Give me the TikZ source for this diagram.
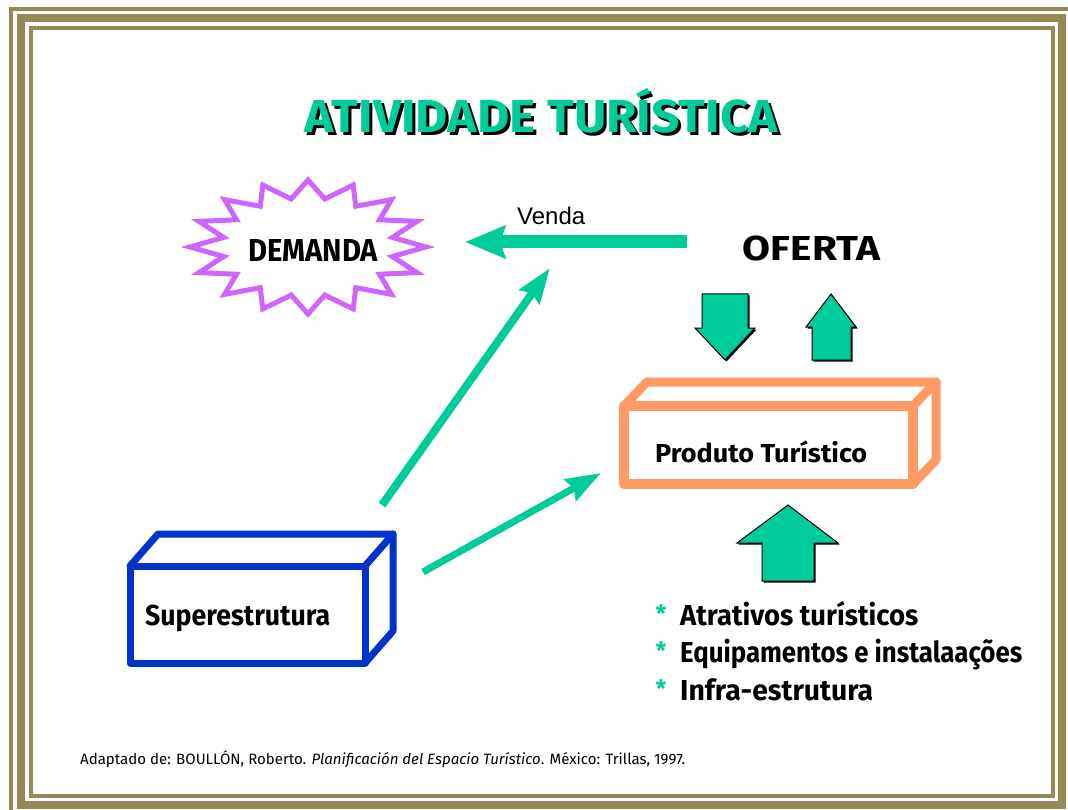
\documentclass[tikz,border=0pt]{standalone}
\usepackage{fontspec}
\setmainfont{Fira Sans}
\newfontfamily\arialfont{Liberation Sans}
\usepackage{graphicx}
\usetikzlibrary{arrows.meta}
\definecolor{tealc}{HTML}{00CC99}
\definecolor{purplec}{HTML}{CC66FF}
\definecolor{orangec}{HTML}{FF9966}
\definecolor{bluec}{HTML}{0033CC}
\definecolor{framec}{HTML}{958A55}
\newcommand{\fitw}[2]{\resizebox{#1}{!}{#2}}
\newcommand{\fitwh}[3]{\resizebox{#1}{#2}{\raisebox{0pt}[\fontcharht\font`H][0pt]{#3}}}
\tikzset{
  frameline/.style={draw=framec},
  conn/.style={draw=tealc, line width=8pt, -{Stealth[length=35pt,width=24pt,inset=4pt]}},
  vendaconn/.style={draw=tealc, line width=13pt, -{Stealth[length=40pt,width=32pt,inset=5pt]}},
  block/.style={fill=tealc, draw=black, line width=1pt, line join=miter},
  blockshadow/.style={fill=black},
  boxline/.style={line width=#1, line join=round, line cap=round},
  comic/.style={inner sep=0pt, font=\bfseries},
  starline/.style={draw=purplec, line width=5pt, line join=miter, miter limit=20},
  star/.style={comic, text=tealc, font=\bfseries\fontsize{24}{28}\selectfont}
}
\begin{document}
\begin{tikzpicture}[x=1pt,y=-1pt]
\useasboundingbox (0,0) rectangle (1068,810);
\fill[white] (0,0) rectangle (1068,810);
% frame
\draw[frameline, line width=4pt] (11,810) -- (11,9) -- (1068,9);
\draw[frameline, line width=8pt] (21,18) rectangle (1062,805);
\draw[frameline, line width=4pt] (31,28) rectangle (1053,795.5);

% title
\node[comic, anchor=base, text=black] (titleshadow) at (544.5,136) {\fitwh{473pt}{32pt}{ATIVIDADE TURÍSTICA}};
\node[comic, anchor=base, text=tealc] (title) at (541.5,133) {\fitwh{473pt}{32pt}{ATIVIDADE TURÍSTICA}};

% demanda starburst
\draw[starline] (426,247)
  \foreach \k in {1,...,16} {
    -- ({308+86*cos(\k*22.5-11.25)},{247-49*sin(\k*22.5-11.25)})
    -- ({308+118*cos(\k*22.5)},{247-67*sin(\k*22.5)})
  } -- cycle;
\node[comic, anchor=base] (demanda) at (313,262) {\fitwh{130pt}{22pt}{DEMANDA}};

% oferta
\node[comic, anchor=base] (oferta) at (811.5,261) {\fitwh{137pt}{24pt}{OFERTA}};

% venda arrow
\coordinate (vendastart) at (687,242);
\coordinate (vendaend) at (465,242);
\draw[vendaconn] (vendastart) -- (vendaend);
\node[anchor=base west, inner sep=0pt, font=\arialfont\fontsize{24}{28}\selectfont] (venda) at (517,225) {Venda};

% block arrows
\fill[blockshadow] ([shift={(1.5,1.5)}]702,294) -- ++(46,0) -- ++(0,34) -- ++(7,0) -- ++(-30,32) -- ++(-30,-32) -- ++(7,0) -- cycle;
\draw[block] (702,294) -- (748,294) -- (748,328) -- (755,328) -- (725,360) -- (695,328) -- (702,328) -- cycle;
\fill[blockshadow] ([shift={(1.5,1.5)}]831,294) -- ++(25,33) -- ++(-5,0) -- ++(0,33) -- ++(-39,0) -- ++(0,-33) -- ++(-6,0) -- cycle;
\draw[block] (831,294) -- (856,327) -- (851,327) -- (851,360) -- (812,360) -- (812,327) -- (806,327) -- cycle;
\fill[blockshadow] ([shift={(1.5,1.5)}]788,505) -- ++(50,38) -- ++(-24,0) -- ++(0,38) -- ++(-52,0) -- ++(0,-38) -- ++(-25,0) -- cycle;
\draw[block] (788,505) -- (838,543) -- (814,543) -- (814,581) -- (762,581) -- (762,543) -- (737,543) -- cycle;

% produto box
\draw[orangec, boxline=10pt] (624,406) rectangle (913,484);
\draw[orangec, boxline=9pt] (624,406) -- (647,382) -- (936,382) -- (913,406);
\draw[orangec, boxline=9pt] (936,382) -- (936,460) -- (913,484);
\node[comic, anchor=base west] (produto) at (655,462) {\fitwh{212pt}{18pt}{Produto Turístico}};

% superestrutura box
\draw[bluec, boxline=7pt] (130,566) rectangle (365,663);
\draw[bluec, boxline=7pt] (130,566) -- (158,534) -- (393,534) -- (365,566);
\draw[bluec, boxline=7pt] (393,534) -- (393,631) -- (365,663);
\node[comic, anchor=base west] (super) at (145,625) {\fitwh{185pt}{20pt}{Superestrutura}};

% diagonal arrows
\coordinate (a1start) at (382,505);
\coordinate (a1end) at (550,268);
\coordinate (a2start) at (423,572);
\coordinate (a2end) at (601,473);
\draw[conn] (a1start) -- (a1end);
\draw[conn, line width=7pt] (a2start) -- (a2end);

% bullets
\node[comic, anchor=base west] (b1) at (680,625) {\fitwh{238pt}{20pt}{Atrativos turísticos}};
\node[comic, anchor=base west] (b2) at (680,662) {\fitwh{342pt}{20pt}{Equipamentos e instalaações}};
\node[comic, anchor=base west] (b3) at (680,700) {\fitwh{193pt}{20pt}{Infra-estrutura}};
\node[star] (s1) at (661,614) {*};
\node[star] (s2) at (661,651) {*};
\node[star] (s3) at (661,689) {*};

% footer
\node[anchor=base west, inner sep=0pt] (footer) at (80,764) {\fitw{605pt}{Adaptado de: BOULLÓN, Roberto. \textit{Planificación del Espacio Turístico}. México: Trillas, 1997.}};
\end{tikzpicture}
\end{document}
